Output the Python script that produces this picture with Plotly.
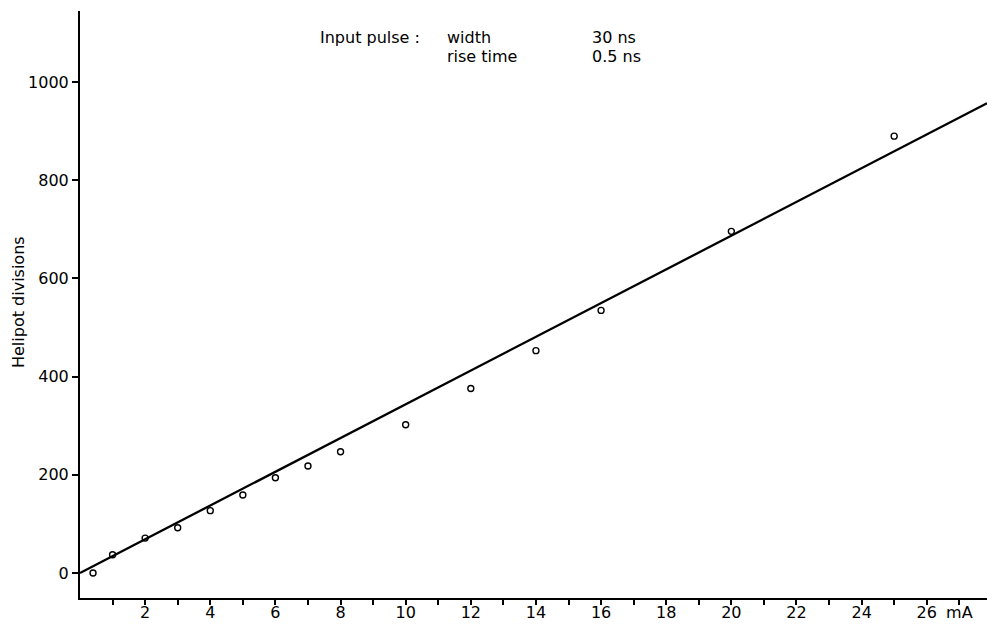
import plotly.graph_objects as go

current_ma = [0.4, 1, 2, 3, 4, 5, 6, 7, 8, 10, 12, 14, 16, 20, 25]
helipot = [0, 37, 71, 92, 127, 159, 194, 218, 247, 302, 376, 453, 535, 696, 890]

fit_x = [0, 27.85]
fit_y = [0, 957]

x_tickvals = list(range(1, 28))
x_ticktext = [str(v) if v % 2 == 0 else "" for v in range(1, 27)] + ["mA"]
y_tickvals = [0, 200, 400, 600, 800, 1000]

FAM = "DejaVu Sans, Liberation Sans, sans-serif"
font = dict(family=FAM, size=16, color="black")

W, H = 987, 624
L, R, T, B = 80, 0, 11, 26
PW, PH = W - L - R, H - T - B


def px(xp):
    return (xp - L) / PW


def py(yp):
    return (H - B - yp) / PH


fig = go.Figure()
fig.add_trace(go.Scatter(x=fit_x, y=fit_y, mode="lines",
                         line=dict(color="black", width=2.3), showlegend=False))
fig.add_trace(go.Scatter(x=current_ma, y=helipot, mode="markers",
                         marker=dict(symbol="circle-open", size=6, color="black",
                                     line=dict(width=1.4, color="black")),
                         showlegend=False))

fig.update_layout(
    width=W, height=H,
    margin=dict(l=L, r=R, t=T, b=B),
    paper_bgcolor="white", plot_bgcolor="white",
    font=font,
    xaxis=dict(range=[0, 27.85], tickvals=x_tickvals, ticktext=x_ticktext,
               automargin=False, ticklabelstandoff=-6,
               showgrid=False, zeroline=False, showline=True, linecolor="black",
               linewidth=2, ticks="outside", ticklen=5, tickwidth=1.5,
               tickcolor="black", tickfont=font),
    yaxis=dict(range=[-51, 1145], tickvals=y_tickvals, automargin=False,
               showgrid=False, zeroline=False, showline=True, linecolor="black",
               linewidth=2, ticks="outside", ticklen=6, tickwidth=1.5,
               tickcolor="black", tickfont=font),
)

fig.add_annotation(text="Helipot divisions", x=px(18), y=py(302),
                   xref="paper", yref="paper", textangle=-90, showarrow=False,
                   xanchor="center", yanchor="middle",
                   font=dict(family=FAM, size=16, color="black"))

ann_font = dict(family=FAM, size=16, color="black")
for txt, xp, yp in [("Input pulse :", 318, 37), ("width", 445, 37), ("30 ns", 590, 37),
                    ("rise time", 445, 57), ("0.5 ns", 590, 57)]:
    fig.add_annotation(text=txt, x=px(xp), y=py(yp), xref="paper", yref="paper",
                       xanchor="left", yanchor="middle", showarrow=False, font=ann_font)

fig.write_html("out.html", config={"displayModeBar": False},
               post_script="document.body.style.margin='0';")
